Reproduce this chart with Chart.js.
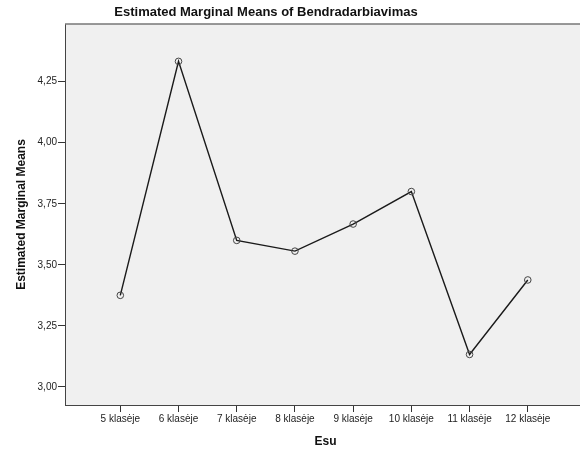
<!DOCTYPE html>
<html>
<head>
<meta charset="utf-8">
<script src="https://cdn.jsdelivr.net/npm/chart.js@4"></script>
<style>
  html, body { margin: 0; padding: 0; background: #fff; overflow: hidden; }
  #wrap { width: 600px; height: 454px; }
</style>
</head>
<body>
<div id="wrap"><canvas id="emm" width="600" height="454"></canvas></div>
<script>
const categories = ['5 klasėje', '6 klasėje', '7 klasėje', '8 klasėje', '9 klasėje', '10 klasėje', '11 klasėje', '12 klasėje'];
const means = [3.375, 4.333, 3.600, 3.556, 3.667, 3.800, 3.133, 3.438];
const yTicks = [3.00, 3.25, 3.50, 3.75, 4.00, 4.25];

const chartTitle = 'Estimated Marginal Means of Bendradarbiavimas';
const yTitle = 'Estimated Marginal Means';
const xTitle = 'Esu';

const FONT = '"Liberation Sans", Arial, sans-serif';

// plot background, top border and the three titles
const frame = {
  id: 'frame',
  beforeDraw(chart) {
    const { ctx, chartArea: a } = chart;
    ctx.save();
    ctx.fillStyle = '#f0f0f0';
    ctx.fillRect(a.left, a.top, a.right - a.left, a.bottom - a.top);
    ctx.restore();
  },
  afterDraw(chart) {
    const { ctx, chartArea: a } = chart;
    ctx.save();
    ctx.strokeStyle = '#777';
    ctx.lineWidth = 1.5;
    ctx.beginPath();
    ctx.moveTo(a.left, a.top);
    ctx.lineTo(a.right, a.top);
    ctx.stroke();

    ctx.fillStyle = '#111';
    ctx.textAlign = 'center';
    ctx.textBaseline = 'middle';
    ctx.font = `bold 13px ${FONT}`;
    ctx.fillText(chartTitle, 266, 12);

    ctx.font = `bold 12px ${FONT}`;
    ctx.fillText(xTitle, (a.left + a.right) / 2, 442);

    ctx.translate(22, (a.top + a.bottom) / 2);
    ctx.rotate(-Math.PI / 2);
    ctx.fillText(yTitle, 0, 0);
    ctx.restore();
  }
};

new Chart(document.getElementById('emm'), {
  type: 'line',
  data: {
    datasets: [{
      data: categories.map((c, i) => ({ x: i, y: means[i] })),
      borderColor: '#1a1a1a',
      borderWidth: 1.4,
      tension: 0,
      fill: false,
      pointRadius: 3.3,
      pointBorderWidth: 1,
      pointBorderColor: '#444',
      pointBackgroundColor: 'rgba(0,0,0,0)',
      pointHoverRadius: 3.3
    }]
  },
  options: {
    responsive: false,
    animation: false,
    layout: { padding: { top: 24, right: 14, left: 0, bottom: 0 } },
    plugins: { legend: { display: false }, tooltip: { enabled: false } },
    scales: {
      x: {
        type: 'linear',
        min: -0.95,
        max: 8.0,
        afterBuildTicks: (s) => { s.ticks = categories.map((c, i) => ({ value: i })); },
        afterFit: (s) => { s.height = 49; },
        ticks: {
          callback: (v) => categories[v],
          color: '#222',
          font: { family: FONT, size: 10 },
          padding: 1,
          maxRotation: 0,
          autoSkip: false
        },
        grid: { drawOnChartArea: false, drawTicks: true, tickLength: 7, tickColor: '#333', tickWidth: 1 },
        border: { display: true, color: '#444', width: 1 }
      },
      y: {
        min: 2.926,
        max: 4.486,
        afterBuildTicks: (s) => { s.ticks = yTicks.map((v) => ({ value: v })); },
        afterFit: (s) => { s.width = 65; },
        ticks: {
          callback: (v) => v.toFixed(2).replace('.', ','),
          color: '#222',
          font: { family: FONT, size: 10 },
          padding: 1
        },
        grid: { drawOnChartArea: false, drawTicks: true, tickLength: 7, tickColor: '#333', tickWidth: 1 },
        border: { display: true, color: '#444', width: 1 }
      }
    }
  },
  plugins: [frame]
});
</script>
</body>
</html>
